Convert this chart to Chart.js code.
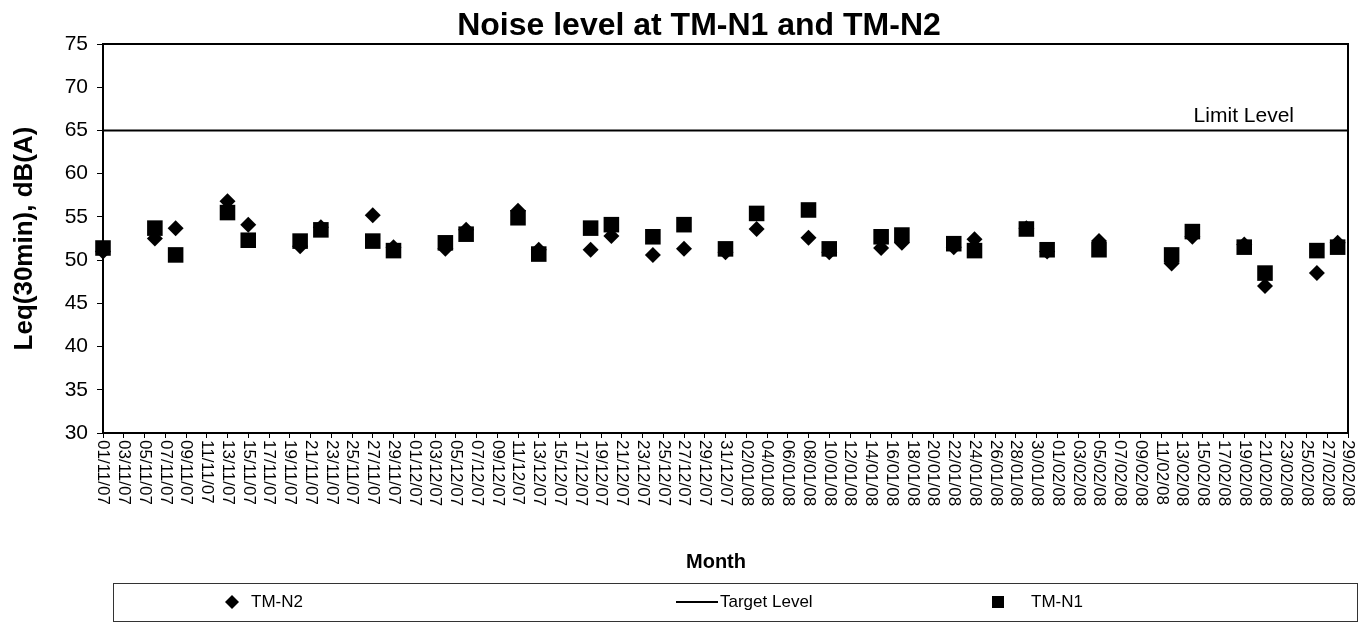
<!DOCTYPE html>
<html>
<head>
<meta charset="utf-8">
<script src="https://cdn.jsdelivr.net/npm/chart.js@4.4.1/dist/chart.umd.min.js"></script>
<style>
  html, body { margin: 0; padding: 0; background: #fff; }
</style>
</head>
<body>
<canvas id="myChart" width="1369" height="624"></canvas>
<script>
// sampling dates (dd/mm/yy) and measured Leq(30min) values
const sampleDates = ['01/11/07','06/11/07','08/11/07','13/11/07','15/11/07','20/11/07','22/11/07','27/11/07','29/11/07',
  '04/12/07','06/12/07','11/12/07','13/12/07','18/12/07','20/12/07','24/12/07','27/12/07','31/12/07',
  '03/01/08','08/01/08','10/01/08','15/01/08','17/01/08','22/01/08','24/01/08','29/01/08','31/01/08',
  '05/02/08','12/02/08','14/02/08','19/02/08','21/02/08','26/02/08','28/02/08'];
const tmN2 = [51.0, 52.5, 53.7, 56.8, 54.1, 51.6, 53.8, 55.2, 51.5,
  51.3, 53.5, 55.7, 51.2, 51.2, 52.8, 50.6, 51.3, 50.9,
  53.6, 52.6, 50.9, 51.4, 52.0, 51.5, 52.4, 53.7, 51.0,
  52.2, 49.6, 52.7, 51.8, 47.0, 48.5, 52.0];
const tmN1 = [51.4, 53.7, 50.6, 55.5, 52.3, 52.2, 53.5, 52.2, 51.1,
  52.0, 53.0, 54.9, 50.7, 53.7, 54.1, 52.7, 54.1, 51.3,
  55.4, 55.8, 51.3, 52.7, 52.9, 51.9, 51.1, 53.6, 51.2,
  51.2, 50.6, 53.3, 51.5, 48.5, 51.1, 51.5];
const limitLevel = 65;

const xTickLabels = ['01/11/07','03/11/07','05/11/07','07/11/07','09/11/07','11/11/07','13/11/07','15/11/07','17/11/07','19/11/07','21/11/07','23/11/07','25/11/07','27/11/07','29/11/07',
  '01/12/07','03/12/07','05/12/07','07/12/07','09/12/07','11/12/07','13/12/07','15/12/07','17/12/07','19/12/07','21/12/07','23/12/07','25/12/07','27/12/07','29/12/07','31/12/07',
  '02/01/08','04/01/08','06/01/08','08/01/08','10/01/08','12/01/08','14/01/08','16/01/08','18/01/08','20/01/08','22/01/08','24/01/08','26/01/08','28/01/08','30/01/08',
  '01/02/08','03/02/08','05/02/08','07/02/08','09/02/08','11/02/08','13/02/08','15/02/08','17/02/08','19/02/08','21/02/08','23/02/08','25/02/08','27/02/08','29/02/08'];
const yTicks = [30, 35, 40, 45, 50, 55, 60, 65, 70, 75];

const FONT = '"Liberation Sans", Arial, sans-serif';

// days since first sampling date
function dayOf(s) {
  const p = s.split('/').map(Number);
  return Math.round((Date.UTC(2000 + p[2], p[1] - 1, p[0]) - Date.UTC(2000 + 7, 10, 1)) / 86400000);
}
const lastDay = dayOf(xTickLabels[xTickLabels.length - 1]);

const n2Points = sampleDates.map((d, i) => ({x: dayOf(d), y: tmN2[i]}));
const n1Points = sampleDates.map((d, i) => ({x: dayOf(d), y: tmN1[i]}));

const extras = {
  id: 'extras',
  afterDraw(chart) {
    const ctx = chart.ctx;
    const a = chart.chartArea;
    const xs = chart.scales.x, ys = chart.scales.y;
    ctx.save();
    // plot box
    ctx.strokeStyle = '#000';
    ctx.lineWidth = 2;
    ctx.beginPath();
    ctx.moveTo(a.left, a.top); ctx.lineTo(a.right, a.top); ctx.lineTo(a.right, a.bottom);
    ctx.stroke();

    // title
    ctx.fillStyle = '#000';
    ctx.font = 'bold 32px ' + FONT;
    ctx.textAlign = 'center';
    ctx.textBaseline = 'alphabetic';
    ctx.fillText('Noise level at TM-N1 and TM-N2', 699, 35);

    // x tick labels, rotated
    ctx.font = '17px ' + FONT;
    ctx.textAlign = 'left';
    ctx.textBaseline = 'middle';
    xs.ticks.forEach((t, i) => {
      const px = xs.getPixelForValue(t.value);
      ctx.save();
      ctx.translate(px, a.bottom + 7);
      ctx.rotate(Math.PI / 2);
      ctx.fillText(xTickLabels[i] || '', 0, 0);
      ctx.restore();
    });

    // x axis title
    ctx.font = 'bold 20px ' + FONT;
    ctx.textAlign = 'center';
    ctx.textBaseline = 'middle';
    ctx.fillText('Month', 716, 562);

    // limit label
    ctx.font = '21px ' + FONT;
    ctx.textAlign = 'right';
    ctx.textBaseline = 'alphabetic';
    ctx.fillText('Limit Level', 1294, ys.getPixelForValue(limitLevel) - 8);

    // legend
    const ly = 602;
    ctx.lineWidth = 1;
    ctx.strokeStyle = '#333';
    ctx.strokeRect(113.5, 583.5, 1244, 38);
    ctx.fillStyle = '#000';
    ctx.beginPath();
    ctx.moveTo(232, ly - 7); ctx.lineTo(239, ly); ctx.lineTo(232, ly + 7); ctx.lineTo(225, ly);
    ctx.closePath(); ctx.fill();
    ctx.fillRect(992, ly - 6, 12, 12);
    ctx.lineWidth = 2;
    ctx.strokeStyle = '#000';
    ctx.beginPath(); ctx.moveTo(676, ly); ctx.lineTo(718, ly); ctx.stroke();
    ctx.font = '17px ' + FONT;
    ctx.textAlign = 'left';
    ctx.textBaseline = 'middle';
    ctx.fillText('TM-N2', 251, ly);
    ctx.fillText('Target Level', 720, ly);
    ctx.fillText('TM-N1', 1031, ly);
    ctx.restore();
  }
};

const ctx = document.getElementById('myChart').getContext('2d');
const myChart = new Chart(ctx, {
  type: 'scatter',
  data: {
    datasets: [{
      label: 'TM-N2',
      data: n2Points,
      pointStyle: 'rectRot',
      pointRadius: 8,
      pointBackgroundColor: '#000',
      pointBorderWidth: 0,
      order: 2,
      clip: false,
    }, {
      label: 'Target Level',
      data: [{x: 0, y: limitLevel}, {x: lastDay, y: limitLevel}],
      showLine: true,
      borderColor: '#000',
      borderWidth: 2,
      pointRadius: 0,
      order: 1,
      clip: false,
    }, {
      label: 'TM-N1',
      data: n1Points,
      pointStyle: 'rect',
      pointRadius: 11,
      pointBackgroundColor: '#000',
      pointBorderWidth: 0,
      order: 0,
      clip: false,
    }]
  },
  options: {
    responsive: false,
    animation: false,
    devicePixelRatio: 1,
    layout: { padding: { top: 44, right: 21, left: 0, bottom: 0 } },
    plugins: {
      legend: { display: false },
      title: { display: false },
      tooltip: { enabled: false },
    },
    scales: {
      x: {
        type: 'linear',
        min: 0,
        max: lastDay,
        afterFit: s => { s.height = 191; },
        ticks: { stepSize: 2, display: false, autoSkip: false },
        grid: { drawOnChartArea: false, drawTicks: true, tickLength: 5, color: '#000' },
        border: { display: true, color: '#000', width: 2 },
      },
      y: {
        min: 30,
        max: 75,
        afterFit: s => { s.width = 103; },
        afterBuildTicks: s => { s.ticks = yTicks.map(v => ({value: v})); },
        ticks: { color: '#000', padding: 9, font: { size: 21, family: FONT } },
        grid: { drawOnChartArea: false, drawTicks: true, tickLength: 6, color: '#000' },
        border: { display: true, color: '#000', width: 2 },
        title: {
          display: true,
          text: 'Leq(30min), dB(A)',
          color: '#000',
          font: { size: 26, weight: 'bold', family: FONT },
          padding: { top: 9, bottom: 0 },
        },
      },
    },
  },
  plugins: [extras],
});
</script>
</body>
</html>
